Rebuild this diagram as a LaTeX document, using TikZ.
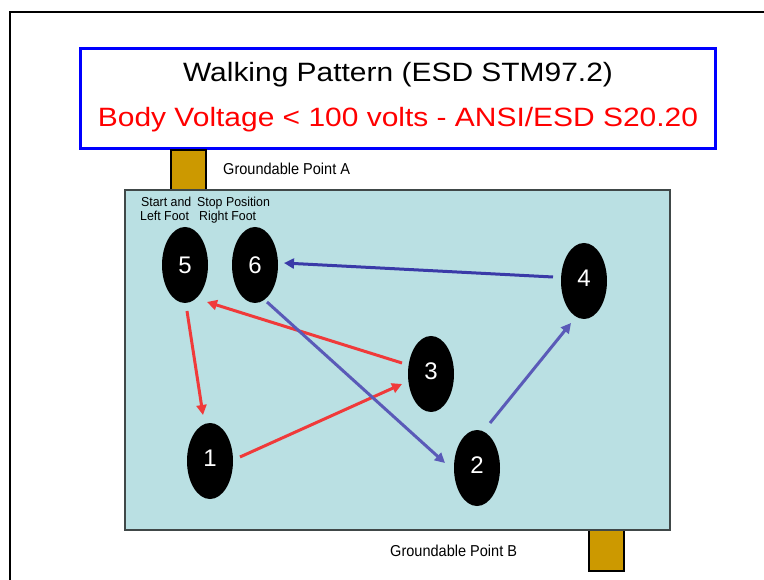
\documentclass[tikz,border=0pt]{standalone}
\usepackage{fontspec}
\setmainfont{Liberation Sans}
\newfontfamily\titlefont[FakeStretch=1.13]{Liberation Sans}
\newfontfamily\lblfont[FakeStretch=0.92]{Liberation Sans}
\newfontfamily\smallfont[FakeStretch=0.95]{Liberation Sans}
\usetikzlibrary{shapes.geometric,arrows.meta}
\definecolor{padcyan}{HTML}{BAE0E3}
\definecolor{padedge}{HTML}{404848}
\definecolor{gbrown}{HTML}{CC9900}
\definecolor{navyarrow}{HTML}{3A3AA8}
\definecolor{bluearrow}{HTML}{5A5AB8}
\definecolor{redarrow}{HTML}{F03A3A}
\tikzset{
  box/.style={rectangle, inner sep=0pt, outer sep=0pt, anchor=north west},
  padbox/.style={box, fill=padcyan, draw=padedge, line width=1.5pt},
  groundpad/.style={box, fill=gbrown, draw=black, line width=1.2pt},
  foot/.style={ellipse, fill=black, minimum width=46pt, minimum height=76pt,
    inner sep=0pt, text=white, font=\fontsize{24}{24}\selectfont},
  raised/.style={text depth=6pt},
  walk/.style={line width=3pt, -{Triangle[length=10pt,width=10pt]}},
  lbl/.style={anchor=base west, inner sep=0pt, font=\lblfont\fontsize{15.8}{18}\selectfont},
  small/.style={anchor=base west, inner sep=0pt, font=\smallfont\fontsize{13}{14}\selectfont},
  titletext/.style={anchor=base, inner sep=0pt, font=\titlefont\fontsize{26.5}{30}\selectfont}
}
\begin{document}
\begin{tikzpicture}[x=1pt,y=-1pt]
\useasboundingbox (0,0) rectangle (764,580);
\fill[white] (0,0) rectangle (764,580);
% outer frame
\draw[line width=2pt] (10,580) -- (10,12) -- (764,12);
% title box
\node[box, draw=blue, fill=white, line width=3pt, minimum width=635pt, minimum height=100pt] (titlebox) at (80,49) {};
\node[titletext] (title1) at (398,82) {Walking Pattern (ESD STM97.2)};
\node[titletext, text=red] (title2) at (398,127) {Body Voltage < 100 volts - ANSI/ESD S20.20};
% ground points
\node[groundpad, minimum width=35pt, minimum height=41pt] (gA) at (171,150) {};
\node[groundpad, minimum width=35pt, minimum height=41pt] (gB) at (589,530) {};
% pad
\node[padbox, minimum width=545pt, minimum height=340pt] (pad) at (125,190) {};
\node[lbl] (lblA) at (223,175) {Groundable Point A};
\node[lbl] (lblB) at (390,556) {Groundable Point B};
\node[small] (s1) at (141,207) {Start and};
\node[small] (s2) at (140,221) {Left Foot};
\node[small] (s3) at (197,207) {Stop Position};
\node[small] (s4) at (199,221) {Right Foot};
% feet
\node[foot] (n5) at (185,265) {5};
\node[foot] (n6) at (255,265) {6};
\node[foot, raised] (n4) at (584,281) {4};
\node[foot, raised] (n3) at (431,374) {3};
\node[foot, raised] (n1) at (210,461) {1};
\node[foot, raised] (n2) at (477,468) {2};
% walking arrows
\draw[walk, redarrow] ([shift={(2,46)}]n5.center) -- ([shift={(-7,-46)}]n1.center);
\draw[walk, redarrow] ([shift={(30,-4)}]n1.center) -- ([shift={(-29,10)}]n3.center);
\draw[walk, redarrow] ([shift={(-29,-11)}]n3.center) -- ([shift={(22,37)}]n5.center);
\draw[walk, bluearrow] ([shift={(12,37)}]n6.center) -- ([shift={(-32,-5)}]n2.center);
\draw[walk, bluearrow] ([shift={(13,-45)}]n2.center) -- ([shift={(-13,42)}]n4.center);
\draw[walk, navyarrow] ([shift={(-31,-4)}]n4.center) -- ([shift={(29,-2)}]n6.center);
\end{tikzpicture}
\end{document}
